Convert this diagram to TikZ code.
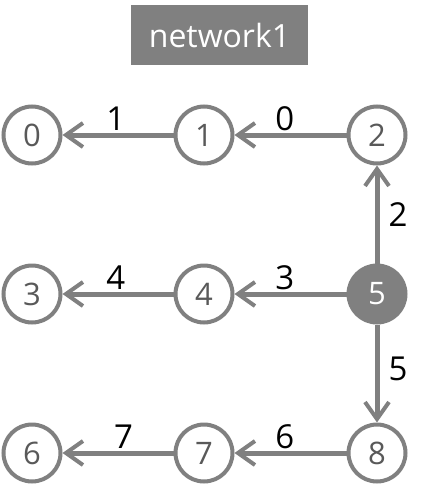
\documentclass[tikz,border=0pt]{standalone}
\usepackage{fontspec}
\setmainfont{Open Sans}
\usetikzlibrary{arrows.meta}
\definecolor{netgray}{HTML}{808080}
\definecolor{numgray}{HTML}{595959}
\tikzset{
	vertex/.style={circle, draw=netgray, line width=4pt, fill=white, minimum size=57pt, inner sep=0pt, text=numgray, font=\fontsize{31}{33}\selectfont},
	source/.style={vertex, fill=netgray, text=white},
	link/.style={draw=netgray, line width=5pt, -{Straight Barb[length=17pt, width=24pt, line width=4pt]}},
	weight/.style={text=black, font=\fontsize{33}{35}\selectfont, inner sep=1pt}
}
\begin{document}
\begin{tikzpicture}[x=1pt, y=-1pt]
	\useasboundingbox (0,0) rectangle (434,498);
	\node[fill=netgray, text=white, minimum width=177pt, minimum height=60pt, inner sep=0pt, font=\fontsize{32}{34}\selectfont] (title) at (219.5,35) {network1};
	% vertices
	\node[vertex] (v0) at (32,135) {0};
	\node[vertex] (v1) at (204,135) {1};
	\node[vertex] (v2) at (377,135) {2};
	\node[vertex] (v3) at (32,294) {3};
	\node[vertex] (v4) at (204,294) {4};
	\node[source] (v5) at (377,294) {5};
	\node[vertex] (v6) at (32,453) {6};
	\node[vertex] (v7) at (204,453) {7};
	\node[vertex] (v8) at (377,453) {8};
	% links
	\draw[link] (v1) -- node[weight, pos=0.52, above=1pt] {1} (v0);
	\draw[link] (v2) -- node[weight, pos=0.55, above=1pt] {0} (v1);
	\draw[link] (v5) -- node[weight, midway, right=8pt] {2} (v2);
	\draw[link] (v4) -- node[weight, pos=0.52, above=1pt] {4} (v3);
	\draw[link] (v5) -- node[weight, pos=0.55, above=1pt] {3} (v4);
	\draw[link] (v5) -- node[weight, pos=0.45, right=8pt] {5} (v8);
	\draw[link] (v7) -- node[weight, pos=0.45, above=1pt] {7} (v6);
	\draw[link] (v8) -- node[weight, pos=0.55, above=1pt] {6} (v7);
\end{tikzpicture}
\end{document}
